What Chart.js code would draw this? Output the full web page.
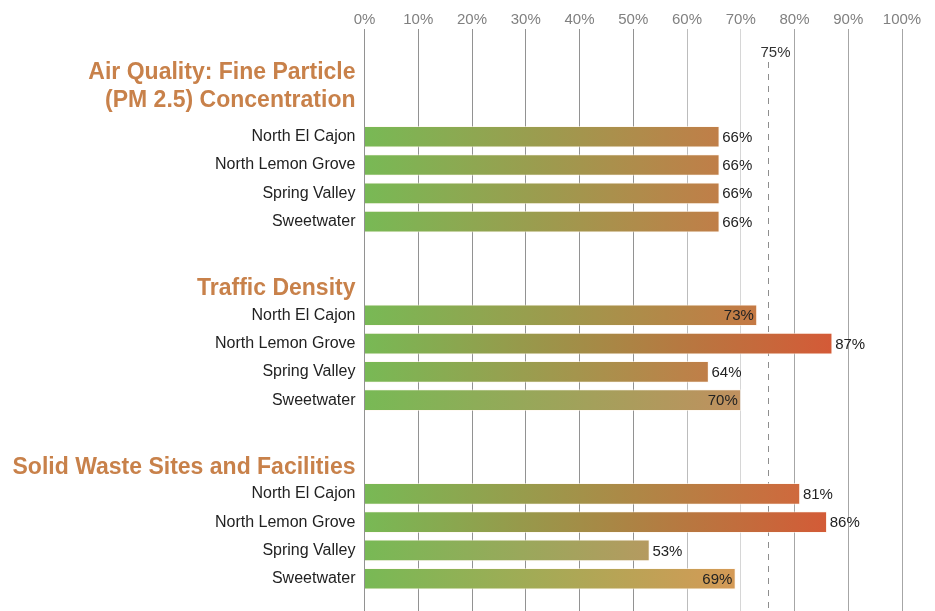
<!DOCTYPE html>
<html>
<head>
<meta charset="utf-8">
<script src="https://cdn.jsdelivr.net/npm/chart.js@4"></script>
<style>
  html, body { margin: 0; padding: 0; background: #ffffff; }
  #wrap { width: 935px; height: 611px; position: relative; }
</style>
</head>
<body>
<div id="wrap"><canvas id="c" width="935" height="611"></canvas></div>
<script>
// ---- data ----
const groupTitles = [
  ["Air Quality: Fine Particle", "(PM 2.5) Concentration"],
  ["Traffic Density"],
  ["Solid Waste Sites and Facilities"]
];
const communities = ["North El Cajon", "North Lemon Grove", "Spring Valley", "Sweetwater"];
const airQuality = [66, 66, 66, 66];
const trafficDensity = [73, 87, 64, 70];
const solidWaste = [81, 86, 53, 69];
const targetValue = 75;
const xTickValues = [0, 10, 20, 30, 40, 50, 60, 70, 80, 90, 100];

// ---- styles ----
const seriesByGroup = [airQuality, trafficDensity, solidWaste];
const barEndColors = [
  ["#c07e48", "#c07e48", "#c07e48", "#c07e48"],
  ["#c57944", "#d45a37", "#c07e48", "#c0905f"],
  ["#cf693d", "#d35b37", "#b59a60", "#d59a56"]
];
const barStartColor = "#78b955";
const headerColor = "#c8814a";
const FONT = "'Liberation Sans', Arial, Helvetica, sans-serif";

// ---- build rows (positions in row units, derived from group structure) ----
const yTicks = [];
const points = [];
const endColorsFlat = [];
let pos = 0;
groupTitles.forEach((title, g) => {
  const headerPos = pos - (0.93 + (title.length - 1) * 0.84);
  yTicks.push({ value: headerPos, label: title.length > 1 ? title : title[0], header: true });
  communities.forEach((name, i) => {
    yTicks.push({ value: pos, label: name, header: false });
    points.push({ x: seriesByGroup[g][i], y: pos });
    endColorsFlat.push(barEndColors[g][i]);
    pos += 1;
  });
  pos += 2.31;
});

const gridColorFor = v => {
  if (v === 70) return "#d6d6d6";
  if (v === 60) return "#bcbcbc";
  if (v >= 80) return "#a6a6a6";
  return "#929292";
};

const targetLinePlugin = {
  id: "targetLine",
  beforeDatasetsDraw(chart) {
    const ctx = chart.ctx, xs = chart.scales.x, area = chart.chartArea;
    const x = Math.round(xs.getPixelForValue(targetValue)) + 0.5;
    ctx.save();
    ctx.strokeStyle = "#8e8e8e";
    ctx.lineWidth = 1;
    ctx.setLineDash([6, 6]);
    ctx.beginPath();
    ctx.moveTo(x, 62);
    ctx.lineTo(x, area.bottom);
    ctx.stroke();
    ctx.setLineDash([]);
    ctx.fillStyle = "#333333";
    ctx.font = "15px " + FONT;
    ctx.textAlign = "left";
    ctx.textBaseline = "middle";
    ctx.fillText(targetValue + "%", x - 8, 53);
    ctx.restore();
  }
};

const valueLabelPlugin = {
  id: "valueLabels",
  afterDatasetsDraw(chart) {
    const ctx = chart.ctx, xs = chart.scales.x;
    const xTarget = xs.getPixelForValue(targetValue);
    const meta = chart.getDatasetMeta(0);
    ctx.save();
    ctx.font = "15px " + FONT;
    ctx.fillStyle = "#222222";
    ctx.textBaseline = "middle";
    meta.data.forEach((bar, i) => {
      const txt = points[i].x + "%";
      const w = ctx.measureText(txt).width;
      const end = bar.x;
      if (end < xTarget && end + 4 + w > xTarget - 2) {
        ctx.textAlign = "right";
        ctx.fillText(txt, end - 3, bar.y + 1);
      } else {
        ctx.textAlign = "left";
        ctx.fillText(txt, end + 3, bar.y + 1);
      }
    });
    ctx.restore();
  }
};

new Chart(document.getElementById("c"), {
  type: "bar",
  data: {
    datasets: [{
      data: points,
      barThickness: 21,
      borderWidth: 1,
      borderColor: "rgba(255,245,235,0.55)",
      backgroundColor: (c) => {
        const chart = c.chart;
        const area = chart.chartArea;
        if (!area || c.dataIndex === undefined) return barStartColor;
        const xs = chart.scales.x;
        const x0 = xs.getPixelForValue(0);
        const x1 = xs.getPixelForValue(points[c.dataIndex].x);
        const g = chart.ctx.createLinearGradient(x0, 0, x1, 0);
        g.addColorStop(0, barStartColor);
        g.addColorStop(1, endColorsFlat[c.dataIndex]);
        return g;
      }
    }]
  },
  options: {
    indexAxis: "y",
    responsive: false,
    animation: false,
    devicePixelRatio: 1,
    layout: { padding: { left: 0, right: 33, top: 0, bottom: 0 } },
    plugins: { legend: { display: false }, tooltip: { enabled: false } },
    scales: {
      x: {
        type: "linear",
        position: "top",
        min: 0,
        max: 100,
        afterBuildTicks: s => { s.ticks = xTickValues.map(v => ({ value: v })); },
        afterFit: s => { s.height = 29; s.paddingLeft = 0; s.paddingRight = 0; },
        border: { display: false },
        grid: {
          drawTicks: false,
          color: c => gridColorFor(c.tick ? c.tick.value : 0),
          lineWidth: 1
        },
        ticks: {
          padding: 0,
          color: "#808080",
          font: { family: FONT, size: 15 },
          callback: v => v + "%"
        }
      },
      y: {
        type: "linear",
        reverse: true,
        offset: false,
        min: -3.806,
        max: 16.76,
        afterBuildTicks: s => { s.ticks = yTicks.map(t => ({ value: t.value })); },
        afterFit: s => { s.width = 364.5; s.paddingTop = 0; s.paddingBottom = 0; },
        border: { display: false },
        grid: { display: false, drawTicks: false, offset: false },
        ticks: {
          autoSkip: false,
          padding: 9,
          callback: (v, i) => yTicks[i].label,
          color: c => (yTicks[c.index] && yTicks[c.index].header) ? headerColor : "#222222",
          font: c => (yTicks[c.index] && yTicks[c.index].header)
            ? { family: FONT, size: 23, weight: "bold", lineHeight: 1.2 }
            : { family: FONT, size: 16, weight: "normal" }
        }
      }
    }
  },
  plugins: [targetLinePlugin, valueLabelPlugin]
});
</script>
</body>
</html>
